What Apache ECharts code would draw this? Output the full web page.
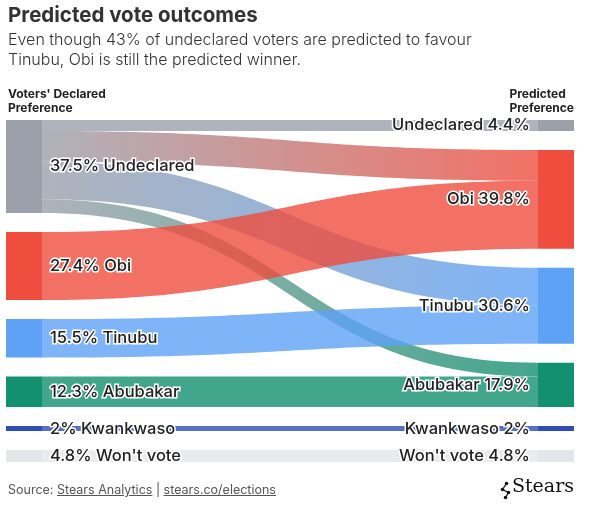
<!DOCTYPE html>
<html>
<head>
<meta charset="utf-8">
<script src="https://cdn.jsdelivr.net/npm/echarts@6/dist/echarts.min.js"></script>
<style>
  html, body { margin: 0; padding: 0; background: #fff; }
  #chart { width: 590px; height: 505px; position: absolute; left: 0; top: 0; }
  #source { position: absolute; left: 8px; top: 482px; font: 12.5px Inter, sans-serif; color: #555; }
  #source u { text-decoration: underline; }
</style>
</head>
<body>
<div id="chart"></div>
<div id="source">Source: <u>Stears Analytics</u> | <u>stears.co/elections</u></div>
<script>
// parties, top to bottom
var parties = ['Undeclared', 'Obi', 'Tinubu', 'Abubakar', 'Kwankwaso', "Won't vote"];
var partyColors = ['#9ba0aa', '#ef4d3e', '#5ea2f6', '#12906f', '#2d4db8', '#e5e6e9'];
var declared = [37.5, 27.4, 15.5, 12.3, 2, 4.8];
var predicted = [4.4, 39.8, 30.6, 17.9, 2, 4.8];
// [from, to, share]
var flows = [
  ['Undeclared', 'Undeclared', 4.4],
  ['Undeclared', 'Obi', 12.4],
  ['Undeclared', 'Tinubu', 15.1],
  ['Undeclared', 'Abubakar', 5.6],
  ['Obi', 'Obi', 27.4],
  ['Tinubu', 'Tinubu', 15.5],
  ['Abubakar', 'Abubakar', 12.3],
  ['Kwankwaso', 'Kwankwaso', 2],
  ["Won't vote", "Won't vote", 4.8]
];

function leftName(i) { return declared[i] + '% ' + parties[i]; }
function rightName(i) { return parties[i] + ' ' + predicted[i] + '%'; }

var labelStyle = {
  show: true,
  fontFamily: 'Inter',
  fontSize: 16.5,
  fontWeight: 500,
  color: '#222',
  textBorderColor: '#fff',
  textBorderWidth: 3,
  distance: 8
};

var nodes = [];
parties.forEach(function (p, i) {
  nodes.push({
    name: leftName(i), depth: 0,
    itemStyle: { color: partyColors[i] },
    label: Object.assign({}, labelStyle, { position: 'right' })
  });
});
parties.forEach(function (p, i) {
  nodes.push({
    name: rightName(i), depth: 1,
    itemStyle: { color: partyColors[i] },
    label: Object.assign({}, labelStyle, { position: 'left' })
  });
});

var links = flows.map(function (f) {
  return {
    source: leftName(parties.indexOf(f[0])),
    target: rightName(parties.indexOf(f[1])),
    value: f[2]
  };
});

var myChart = echarts.init(document.getElementById('chart'));
myChart.setOption({
  animation: false,
  graphic: [
    { type: 'text', left: 8, top: 5, style: { text: 'Predicted vote outcomes', font: 'bold 20.5px Inter', fill: '#333' } },
    { type: 'text', left: 8, top: 30, style: { text: 'Even though 43% of undeclared voters are predicted to favour\nTinubu, Obi is still the predicted winner.', font: '300 16px Inter', fill: '#333', lineHeight: 20 } },
    { type: 'text', left: 8, top: 87, style: { text: "Voters' Declared\nPreference", font: 'bold 12px Inter', fill: '#222', lineHeight: 14 } },
    { type: 'text', right: 16, top: 87, style: { text: 'Predicted\nPreference', font: 'bold 12px Inter', fill: '#222', lineHeight: 14, align: 'right' } },
    { type: 'text', right: 16, top: 478, style: { text: 'Stears', font: '19px "DejaVu Serif"', fill: '#111' } },
    { type: 'group', left: 500, top: 481, children: [
      { type: 'line', shape: { x1: 3, y1: 8, x2: 7, y2: 2 }, style: { stroke: '#111', lineWidth: 1.3 } },
      { type: 'line', shape: { x1: 3, y1: 8, x2: 9, y2: 11 }, style: { stroke: '#111', lineWidth: 1.3 } },
      { type: 'line', shape: { x1: 9, y1: 11, x2: 6, y2: 16 }, style: { stroke: '#111', lineWidth: 1.3 } },
      { type: 'circle', shape: { cx: 7, cy: 2, r: 1.8 }, style: { fill: '#111' } },
      { type: 'circle', shape: { cx: 3, cy: 8, r: 1.8 }, style: { fill: '#111' } },
      { type: 'circle', shape: { cx: 9, cy: 11, r: 1.8 }, style: { fill: '#111' } },
      { type: 'circle', shape: { cx: 6, cy: 16, r: 1.8 }, style: { fill: '#111' } }
    ] }
  ],
  series: [{
    type: 'sankey',
    left: 6,
    right: 16,
    top: 120,
    bottom: 43,
    nodeWidth: 36,
    nodeGap: 19,
    layoutIterations: 0,
    draggable: false,
    emphasis: { disabled: true },
    lineStyle: { color: 'gradient', opacity: 0.8, curveness: 0.5 },
    data: nodes,
    links: links
  }]
});
</script>
</body>
</html>
